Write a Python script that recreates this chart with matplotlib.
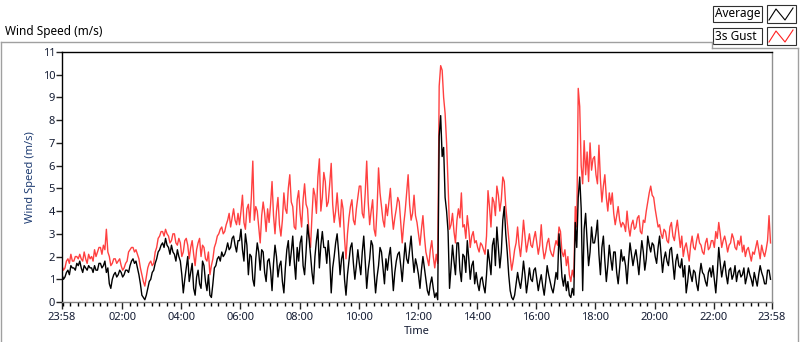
import numpy as np
from matplotlib import pyplot as plt
from matplotlib.patches import Rectangle
from matplotlib.lines import Line2D

plt.rcParams['font.family'] = ['Noto Sans', 'DejaVu Sans']

# 3-minute samples, one row per hour, starting at 23:58 (m/s)
average = [
    1.2, 1.0, 1.1, 1.3, 1.4, 1.2, 1.6, 1.5, 1.5, 1.4, 1.7, 1.6, 1.8, 1.5, 1.3, 1.6, 1.5, 1.4, 1.6, 1.5,
    1.5, 1.3, 1.6, 1.4, 1.4, 1.7, 1.7, 1.5, 1.6, 1.8, 1.3, 1.5, 0.8, 0.6, 1.0, 1.2, 1.3, 1.1, 1.2, 1.4,
    1.3, 1.1, 1.2, 1.4, 1.4, 1.3, 1.6, 1.8, 1.9, 1.7, 1.8, 1.5, 1.2, 0.8, 0.3, 0.2, 0.1, 0.3, 0.6, 0.9,
    1.0, 1.3, 1.4, 1.7, 1.9, 2.2, 2.3, 2.5, 2.6, 2.4, 2.8, 2.5, 2.4, 2.1, 2.5, 2.2, 2.1, 1.8, 2.3, 2.0,
    1.8, 1.2, 0.4, 1.0, 1.5, 2.0, 0.9, 1.3, 1.7, 0.6, 0.3, 1.1, 1.4, 0.8, 0.6, 1.8, 1.6, 0.9, 0.5, 1.2,
    0.3, 0.2, 0.8, 1.5, 1.6, 1.9, 2.0, 1.8, 2.2, 2.0, 2.1, 2.3, 2.6, 2.3, 2.4, 2.8, 2.9, 2.5, 2.2, 2.7,
    2.7, 3.2, 2.3, 1.8, 3.0, 2.5, 1.2, 2.1, 2.0, 1.0, 0.7, 1.9, 2.6, 2.2, 1.4, 2.3, 2.2, 1.3, 0.9, 1.8,
    1.9, 1.4, 0.5, 1.7, 2.5, 2.0, 1.1, 1.6, 1.8, 0.9, 0.4, 1.5, 2.3, 2.7, 1.6, 2.2, 2.9, 1.8, 1.0, 2.4,
    1.8, 2.6, 2.9, 1.6, 1.2, 2.2, 3.4, 2.8, 2.1, 1.3, 0.8, 2.0, 2.7, 3.2, 1.5, 2.5, 3.1, 2.4, 2.4, 1.7,
    2.7, 1.9, 0.4, 1.5, 2.0, 2.6, 3.0, 2.2, 1.2, 1.9, 2.2, 1.0, 0.3, 1.2, 1.8, 2.4, 2.6, 1.7, 1.0, 1.6,
    2.3, 1.7, 1.2, 2.2, 2.9, 1.8, 0.6, 1.4, 1.9, 2.7, 2.5, 1.3, 0.4, 1.1, 1.6, 2.4, 2.2, 1.5, 0.8, 1.9,
    1.4, 2.0, 2.4, 1.5, 0.5, 1.3, 1.8, 2.1, 2.2, 1.6, 0.9, 1.8, 2.6, 1.9, 1.7, 2.3, 2.9, 2.0, 1.3, 1.9,
    1.6, 1.2, 0.6, 1.4, 2.0, 1.5, 1.0, 0.5, 0.3, 0.8, 1.1, 0.6, 0.2, 0.4, 0.1, 7.3, 8.2, 6.4, 6.8, 4.6,
    4.0, 3.1, 0.6, 1.5, 2.5, 1.8, 1.2, 2.6, 2.6, 1.4, 0.9, 2.1, 2.0, 1.3, 2.7, 1.9, 1.0, 1.6, 1.8, 0.8,
    1.3, 0.8, 0.5, 1.0, 1.1, 0.7, 0.4, 1.2, 2.3, 1.8, 1.2, 2.5, 2.8, 1.6, 3.3, 2.4, 1.5, 2.2, 3.6, 4.2,
    3.0, 2.2, 1.2, 0.5, 0.2, 0.1, 0.3, 0.8, 1.3, 0.9, 0.6, 1.1, 1.8, 1.2, 0.4, 0.9, 1.5, 1.0, 0.9, 1.4,
    1.5, 1.0, 0.5, 0.9, 1.2, 0.7, 0.3, 0.9, 1.6, 1.2, 0.9, 0.6, 0.4, 0.8, 1.3, 1.0, 3.0, 2.2, 1.1, 0.7,
    1.2, 0.5, 0.9, 0.3, 0.2, 0.6, 0.3, 3.5, 2.4, 4.6, 5.5, 4.1, 0.5, 3.2, 3.9, 2.7, 1.6, 2.2, 3.3, 2.6,
    2.6, 3.0, 3.6, 2.1, 1.2, 2.4, 2.9, 1.8, 0.9, 1.6, 2.5, 1.9, 1.4, 2.2, 2.2, 1.3, 0.8, 1.5, 2.3, 1.8,
    2.0, 1.6, 0.8, 1.8, 2.6, 2.1, 1.6, 2.0, 2.3, 1.8, 1.2, 2.0, 2.7, 2.2, 1.4, 1.9, 2.9, 2.5, 2.2, 2.6,
    2.5, 2.0, 1.7, 2.4, 2.9, 2.1, 1.3, 1.9, 2.2, 1.8, 1.6, 2.3, 2.4, 1.7, 1.0, 1.8, 2.1, 1.6, 1.5, 1.9,
    1.1, 1.6, 0.4, 0.9, 1.6, 1.2, 0.9, 1.4, 1.3, 0.8, 0.5, 1.2, 1.7, 1.3, 1.2, 0.9, 0.7, 1.3, 1.5, 1.1,
    1.6, 1.0, 0.4, 1.3, 2.4, 1.7, 1.1, 1.5, 1.8, 1.2, 0.8, 1.4, 1.5, 1.0, 1.2, 1.6, 0.9, 1.3, 1.4, 1.1,
    1.2, 1.5, 0.8, 1.1, 1.5, 1.2, 1.0, 0.7, 1.3, 1.0, 0.7, 1.2, 1.6, 1.3, 1.1, 0.8, 0.8, 1.4, 1.4, 1.0,
]

gust = [
    1.6, 1.4, 1.5, 1.8, 1.9, 1.7, 2.1, 1.8, 1.8, 2.0, 2.0, 1.9, 2.1, 1.9, 1.8, 2.2, 1.9, 1.7, 2.1, 1.9,
    2.0, 1.8, 2.3, 2.0, 2.2, 2.4, 2.4, 2.1, 2.5, 2.3, 3.2, 2.2, 2.0, 1.6, 1.7, 1.9, 1.9, 1.7, 1.8, 1.9,
    1.6, 1.4, 1.5, 1.7, 1.8, 2.2, 2.3, 2.4, 2.4, 2.2, 2.3, 2.1, 1.9, 1.5, 1.2, 0.9, 0.7, 1.1, 1.5, 1.7,
    1.8, 1.6, 1.7, 2.2, 2.4, 2.8, 2.9, 3.1, 3.1, 2.9, 3.2, 3.0, 2.9, 2.6, 2.7, 3.0, 3.0, 2.6, 2.5, 2.8,
    2.6, 2.0, 2.2, 2.7, 2.8, 2.5, 1.9, 2.4, 2.7, 2.1, 1.6, 2.3, 2.6, 2.8, 2.0, 2.5, 2.4, 1.9, 1.8, 2.2,
    1.2, 1.6, 1.9, 2.4, 2.6, 2.9, 3.0, 3.2, 3.3, 3.0, 3.1, 3.4, 3.6, 3.9, 3.3, 3.7, 4.1, 3.6, 3.4, 3.9,
    3.4, 4.0, 4.7, 3.5, 3.2, 4.1, 4.3, 3.5, 4.6, 6.2, 3.6, 4.2, 4.0, 3.3, 2.6, 3.8, 4.4, 3.9, 3.1, 4.1,
    3.5, 4.3, 5.3, 3.8, 3.0, 4.0, 4.6, 3.4, 2.9, 3.6, 4.8, 4.1, 3.9, 5.0, 5.6, 4.4, 4.2, 3.3, 3.2, 4.5,
    4.9, 3.9, 3.3, 4.5, 5.2, 4.3, 4.1, 3.0, 2.4, 3.8, 5.0, 4.7, 3.9, 5.5, 6.3, 4.0, 4.6, 5.7, 5.3, 4.2,
    4.4, 5.2, 6.1, 4.3, 3.5, 4.0, 4.8, 3.9, 3.3, 4.5, 4.1, 2.8, 1.9, 3.0, 3.7, 4.2, 4.5, 3.6, 3.4, 4.1,
    4.6, 5.1, 5.1, 3.9, 3.7, 4.8, 6.2, 4.4, 3.4, 4.0, 4.5, 3.2, 2.9, 4.1, 5.9, 4.8, 4.2, 3.6, 3.3, 4.3,
    3.8, 4.4, 5.0, 3.9, 3.2, 3.7, 4.1, 4.6, 4.4, 3.5, 2.6, 3.4, 4.0, 4.8, 5.6, 4.3, 3.6, 3.9, 4.7, 3.8,
    3.5, 3.0, 2.5, 3.2, 3.8, 2.9, 2.2, 1.9, 1.6, 2.3, 2.7, 2.0, 1.5, 2.1, 1.7, 9.5, 10.4, 10.2, 9.0, 8.3,
    7.0, 5.2, 3.2, 3.4, 3.9, 3.1, 2.6, 3.6, 4.1, 3.7, 4.8, 3.3, 3.4, 2.8, 3.8, 3.2, 2.4, 2.9, 3.1, 2.6,
    2.7, 2.4, 2.2, 2.6, 2.5, 2.3, 2.1, 2.9, 4.9, 4.2, 3.3, 4.6, 4.4, 3.8, 5.1, 4.7, 4.0, 4.5, 5.5, 5.3,
    4.2, 3.5, 2.8, 2.0, 1.4, 1.8, 2.3, 2.6, 3.3, 2.5, 2.0, 2.7, 3.6, 2.9, 2.2, 2.6, 3.0, 2.5, 2.4, 2.8,
    3.1, 2.6, 2.1, 2.5, 3.4, 2.4, 1.9, 2.2, 2.6, 2.8, 2.3, 2.1, 2.0, 2.4, 2.7, 2.5, 3.3, 3.1, 2.2, 2.0,
    2.3, 1.6, 2.0, 1.2, 0.9, 1.4, 1.1, 4.2, 3.3, 9.4, 8.6, 6.0, 5.2, 7.1, 5.6, 6.6, 5.3, 7.0, 5.8, 6.3,
    6.4, 5.6, 5.2, 6.9, 5.4, 4.4, 5.1, 5.6, 4.6, 4.0, 4.8, 4.3, 4.8, 3.9, 3.4, 3.8, 4.2, 3.6, 3.3, 3.5,
    3.4, 3.1, 4.0, 3.3, 2.9, 3.4, 3.6, 3.2, 3.3, 3.7, 3.8, 3.1, 3.0, 3.6, 3.5, 4.0, 4.4, 4.8, 5.1, 4.7,
    4.6, 4.1, 3.7, 3.3, 3.4, 3.0, 2.8, 3.2, 3.1, 2.7, 2.6, 3.3, 3.5, 2.9, 2.7, 3.2, 3.6, 3.0, 2.4, 2.9,
    2.0, 2.4, 2.6, 2.2, 1.8, 2.5, 2.9, 2.4, 2.3, 2.7, 3.0, 2.6, 2.5, 2.2, 2.1, 2.6, 2.8, 2.3, 2.4, 2.7,
    2.7, 2.4, 3.1, 2.8, 3.5, 3.0, 2.4, 2.7, 2.9, 2.6, 2.2, 2.5, 2.6, 3.0, 2.8, 2.4, 2.3, 2.7, 2.5, 2.9,
    2.2, 2.5, 2.0, 2.3, 2.4, 2.1, 1.8, 2.2, 2.1, 2.4, 2.7, 2.3, 1.9, 2.5, 2.2, 2.0, 2.3, 2.7, 3.8, 2.6,
]

tick_labels = ['23:58', '02:00', '04:00', '06:00', '08:00', '10:00', '12:00',
               '14:00', '16:00', '18:00', '20:00', '22:00', '23:58']

W, H = 800, 342
fig = plt.figure(figsize=(W / 100, H / 100), dpi=100)


def fx(px):
    return px / W


def fy(py):
    return 1 - py / H


ax = fig.add_axes([fx(62), fy(302), fx(772) - fx(62), fy(52) - fy(302)])

ax.plot(np.arange(len(gust)) / 20.0, gust, color='#ff4040', lw=1.0)
ax.plot(np.arange(len(average)) / 20.0, average, color='black', lw=1.0)

ax.set_xlim(0, 24)
ax.set_ylim(0, 11)

# clock ticks: 23:58 start, so 02:00 sits 2h02m in
offset = 2 / 60
major = [0] + [offset + 2 * k for k in range(1, 12)] + [24]
ax.set_xticks(major)
ax.set_xticklabels(tick_labels)
ax.set_xticks([offset + 0.25 * k for k in range(96)], minor=True)
ax.set_yticks(range(12))

txt = '#141c33'
ax.tick_params(axis='both', labelsize=8, colors='#222222', labelcolor=txt)
ax.tick_params(axis='x', which='major', length=5, width=1, pad=2)
ax.tick_params(axis='x', which='minor', length=3, width=1)
ax.tick_params(axis='y', length=4, width=1, pad=1)

ax.spines['top'].set_color('black')
ax.spines['left'].set_color('black')
ax.spines['bottom'].set_color('#808080')
ax.spines['right'].set_color('#909090')
for s in ax.spines.values():
    s.set_linewidth(1)

ax.set_xlabel('Time', fontsize=8, color=txt, labelpad=2)
ax.set_ylabel('Wind Speed (m/s)', fontsize=8, color='#1f3d73', labelpad=5)

fig.text(fx(5), fy(32), 'Wind Speed (m/s)', fontsize=8.5, va='center', color='black')

# outer frame of the front panel
grey = '#a0a0a0'
frame = [([1, 1], [H, 42]), ([1, 712], [42, 42]), ([712, 712], [42, 48]),
         ([712, 798], [48, 48]), ([798, 798], [48, H])]
for xs, ys in frame:
    fig.add_artist(Line2D([fx(x) for x in xs], [fy(y) for y in ys],
                          color=grey, lw=1))

# legend boxes
for row, (name, col) in enumerate([('Average', 'black'), ('3s Gust', '#ff2020')]):
    top = 6 + row * 22
    fig.add_artist(Rectangle((fx(713), fy(top + 16)), fx(49), fy(0) - fy(16),
                             facecolor='white', edgecolor='#303030', lw=0.8))
    fig.text(fx(715), fy(top + 8), name, fontsize=8.5, va='center', color='black')
    fig.add_artist(Rectangle((fx(767), fy(top + 17)), fx(29), fy(0) - fy(18),
                             facecolor='white', edgecolor='#303030', lw=0.8))
    zx = [769, 776, 785, 793]
    zy = [top + 14, top + 3, top + 14, top + 2]
    fig.add_artist(Line2D([fx(x) for x in zx], [fy(y) for y in zy], color=col, lw=0.8))

fig.savefig('out.png', dpi=100)
